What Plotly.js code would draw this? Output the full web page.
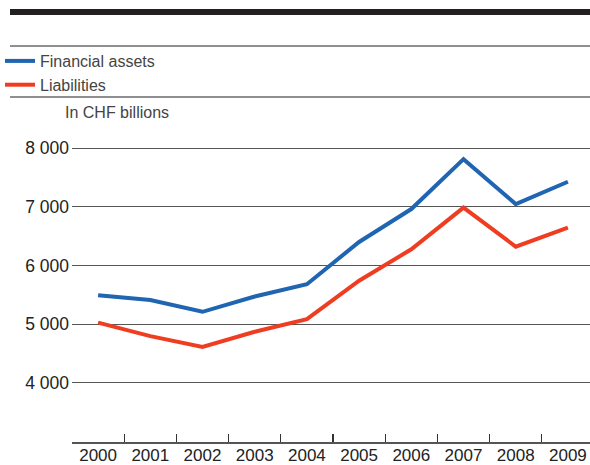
<!DOCTYPE html>
<html>
<head>
<meta charset="utf-8">
<script src="https://cdn.plot.ly/plotly-3.0.1.min.js"></script>
<style>
html,body{margin:0;padding:0;background:#fff;}
#chart{width:590px;height:465px;}
</style>
</head>
<body>
<div id="chart"></div>
<script>
const years = ["2000","2001","2002","2003","2004","2005","2006","2007","2008","2009"];
const financialAssets = [5490, 5410, 5210, 5470, 5680, 6400, 6960, 7810, 7045, 7425];
const liabilities = [5025, 4795, 4610, 4870, 5085, 5740, 6275, 6985, 6320, 6645];
const yTickVals = [4000, 5000, 6000, 7000, 8000];
const yTickText = ["4 000", "5 000", "6 000", "7 000", "8 000"];

const W = 590, H = 465;
const M = {l: 72, r: 0, t: 125, b: 23};
const PW = W - M.l - M.r, PH = H - M.t - M.b;
const px = x => (x - M.l) / PW;
const py = y => (H - M.b - y) / PH;

const FONT = "Liberation Sans, Arial, sans-serif";
const BLUE = "#2065b2";
const RED = "#ef3d22";

const traces = [
  {x: years, y: financialAssets, name: "Financial assets", type: "scatter", mode: "lines",
   line: {color: BLUE, width: 4}, legendgroup: "a"},
  {x: years, y: liabilities, name: "Liabilities", type: "scatter", mode: "lines",
   line: {color: RED, width: 4}, legendgroup: "b"}
];

const layout = {
  width: W, height: H,
  margin: M,
  paper_bgcolor: "#fff", plot_bgcolor: "#fff",
  font: {family: FONT, size: 16, color: "#333"},
  showlegend: true,
  legend: {x: px(0), y: py(44), xanchor: "left", yanchor: "top",
           font: {family: FONT, size: 16, color: "#444"},
           bgcolor: "rgba(0,0,0,0)", tracegroupgap: 2, traceorder: "normal"},
  xaxis: {
    type: "category", range: [-0.5, 9.5 - 4/52.2],
    showgrid: false, zeroline: false,
    showline: true, linecolor: "#555", linewidth: 1.5,
    ticks: "inside", tickson: "boundaries", ticklen: 8, tickcolor: "#333", tickwidth: 1.2,
    tickfont: {family: FONT, size: 17, color: "#222"},
    ticklabelstandoff: -3,
    fixedrange: true
  },
  yaxis: {
    range: [2992, 8392],
    tickvals: yTickVals, ticktext: yTickText,
    showgrid: true, gridcolor: "#555", gridwidth: 1,
    zeroline: false, showline: false, ticks: "",
    tickfont: {family: FONT, size: 17.5, color: "#222"},
    ticklabelstandoff: 2,
    fixedrange: true
  },
  shapes: [
    {type: "rect", xref: "paper", yref: "paper", x0: px(10), x1: 1, y0: py(15), y1: py(9),
     fillcolor: "#231f20", line: {width: 0}},
    {type: "line", xref: "paper", yref: "paper", x0: px(10), x1: 1, y0: py(46), y1: py(46),
     line: {color: "#231f20", width: 1.2}},
    {type: "line", xref: "paper", yref: "paper", x0: px(10), x1: 1, y0: py(97), y1: py(97),
     line: {color: "#231f20", width: 1.2}}
  ],
  annotations: [
    {text: "In CHF billions", xref: "paper", yref: "paper", x: px(63), y: py(112),
     xanchor: "left", yanchor: "middle", showarrow: false,
     font: {family: FONT, size: 16, color: "#444"}}
  ]
};

Plotly.newPlot("chart", traces, layout, {displayModeBar: false, staticPlot: true});
</script>
</body>
</html>
